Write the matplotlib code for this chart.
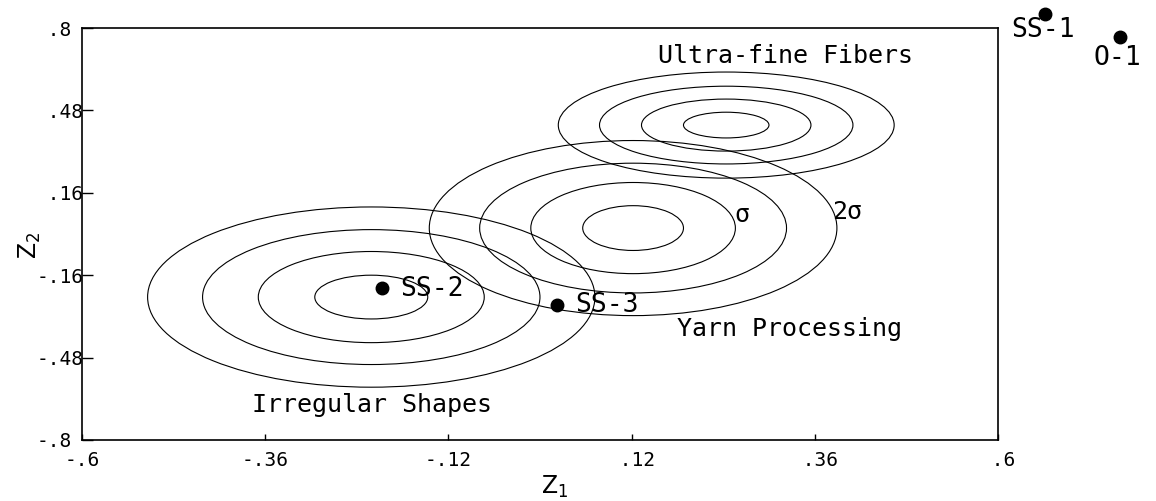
import matplotlib
matplotlib.use('Agg')
import matplotlib.pyplot as plt
from matplotlib.patches import Ellipse

# cluster centres and ring half-axes (0.5, 1, 1.5, 2 sigma)
irregular_center = (-0.221, -0.245)
irregular_rx = [0.074, 0.148, 0.221, 0.293]
irregular_ry = [0.085, 0.177, 0.262, 0.350]

yarn_center = (0.122, 0.023)
yarn_rx = [0.066, 0.134, 0.201, 0.267]
yarn_ry = [0.087, 0.177, 0.252, 0.340]

ultra_center = (0.244, 0.423)
ultra_rx = [0.056, 0.111, 0.166, 0.220]
ultra_ry = [0.050, 0.101, 0.151, 0.206]

# samples
sample_names = ['SS-1', 'O-1', 'SS-2', 'SS-3']
sample_x = [0.662, 0.760, -0.207, 0.022]
sample_y = [0.854, 0.765, -0.210, -0.276]

x_ticks = [-0.6, -0.36, -0.12, 0.12, 0.36, 0.6]
x_labels = ['-.6', '-.36', '-.12', ' .12', ' .36', ' .6']
y_ticks = [-0.8, -0.48, -0.16, 0.16, 0.48, 0.8]
y_labels = ['-.8', '-.48', '-.16', ' .16', ' .48', ' .8']

MONO = 'DejaVu Sans Mono'


def draw_rings(ax, center, rx, ry):
    for w, h in zip(rx, ry):
        ax.add_patch(Ellipse(center, 2 * w, 2 * h, fill=False,
                             edgecolor='black', linewidth=0.8))


fig = plt.figure(figsize=(11.56, 5.01), dpi=100)
ax = fig.add_axes([0.0709, 0.1218, 0.7924, 0.8223])

draw_rings(ax, irregular_center, irregular_rx, irregular_ry)
draw_rings(ax, yarn_center, yarn_rx, yarn_ry)
draw_rings(ax, ultra_center, ultra_rx, ultra_ry)

ax.plot(sample_x, sample_y, 'o', color='black', markersize=9, clip_on=False)

# sample labels
label_dx = [-0.044, -0.035, 0.024, 0.024]
label_dy = [-0.062, -0.082, -0.004, 0.0]
for name, x, y, dx, dy in zip(sample_names, sample_x, sample_y, label_dx, label_dy):
    ax.text(x + dx, y + dy, name, family=MONO, fontsize=19,
            ha='left', va='center', clip_on=False)

ax.text(0.322, 0.691, 'Ultra-fine Fibers', family=MONO, fontsize=18,
        ha='center', va='center')
ax.text(0.327, -0.37, 'Yarn Processing', family=MONO, fontsize=18,
        ha='center', va='center')
ax.text(-0.220, -0.664, 'Irregular Shapes', family=MONO, fontsize=18,
        ha='center', va='center')
ax.text(0.265, 0.074, '\u03c3', family=MONO, fontsize=18,
        ha='center', va='center')
ax.text(0.403, 0.085, '2\u03c3', family=MONO, fontsize=18,
        ha='center', va='center')

ax.set_xlim(-0.6, 0.6)
ax.set_ylim(-0.8, 0.8)

ax.set_xticks(x_ticks)
ax.set_xticklabels(x_labels, family=MONO, fontsize=14)
ax.set_yticks(y_ticks)
ax.set_yticklabels(y_labels, family=MONO, fontsize=14)
for lab in ax.get_yticklabels():
    lab.set_horizontalalignment('left')

ax.tick_params(axis='x', direction='in', length=4.5, width=1, pad=8)
ax.tick_params(axis='y', direction='in', length=8, width=1, pad=33)

for sp in ax.spines.values():
    sp.set_linewidth(1.2)

ax.set_xlabel('$\\mathregular{Z_1}$', fontsize=17)
ax.xaxis.set_label_coords(0.516, -0.082)
ax.set_ylabel('$\\mathregular{Z_2}$', fontsize=17)
ax.yaxis.set_label_coords(-0.043, 0.473)

fig.savefig('out.png', dpi=100)
